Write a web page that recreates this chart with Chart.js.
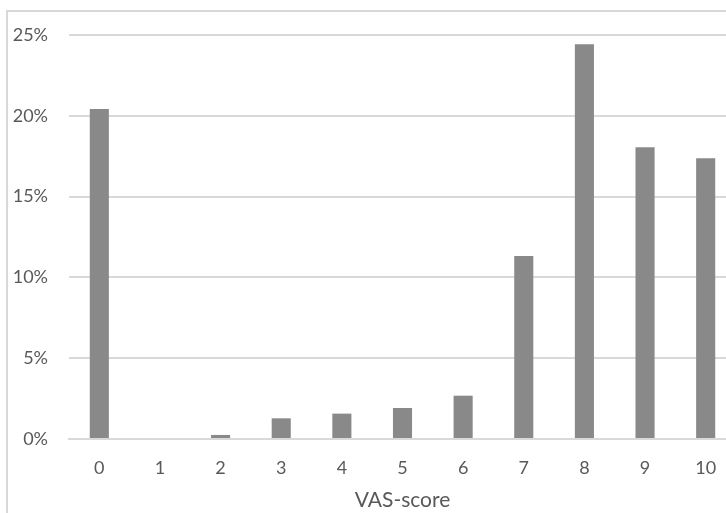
<!DOCTYPE html>
<html>
<head>
<meta charset="utf-8">
<script src="https://cdn.jsdelivr.net/npm/chart.js@4"></script>
<style>
  html, body { margin: 0; padding: 0; background: #fff; overflow: hidden; width: 726px; height: 513px; }
  #frame { position: absolute; left: 6px; top: 10px; width: 800px; height: 600px; border-left: 2px solid #d9d9d9; border-top: 2px solid #d9d9d9; box-sizing: border-box; }
  #wrap { position: absolute; left: 0; top: 0; width: 736px; height: 513px; }
</style>
</head>
<body>
<div id="frame"></div>
<div id="wrap"><canvas id="c"></canvas></div>
<script>
const categories = ["0", "1", "2", "3", "4", "5", "6", "7", "8", "9", "10"];
const percentValues = [20.42, 0, 0.25, 1.28, 1.57, 1.92, 2.68, 11.32, 24.42, 18.05, 17.37];
const yTickValues = [0, 5, 10, 15, 20, 25];
const xAxisTitle = "VAS-score";

const textColor = "#595959";
const gridColor = "#d9d9d9";

new Chart(document.getElementById("c"), {
  type: "bar",
  data: {
    labels: categories,
    datasets: [{
      data: percentValues,
      backgroundColor: "#898989",
      borderWidth: 0,
      barPercentage: 0.315,
      categoryPercentage: 1.0
    }]
  },
  options: {
    responsive: true,
    maintainAspectRatio: false,
    animation: false,
    layout: { padding: { left: 0, right: 0, top: 35, bottom: 0 } },
    plugins: { legend: { display: false }, tooltip: { enabled: false } },
    scales: {
      x: {
        grid: { display: false, drawTicks: false },
        border: { display: true, color: gridColor, width: 2 },
        ticks: { color: textColor, font: { family: "Lato", size: 18 }, padding: 18, maxRotation: 0 },
        title: { display: true, text: xAxisTitle, color: textColor, font: { family: "Lato", size: 21 }, padding: { top: 1, bottom: 0 } },
        afterFit: s => { s.height = 74; }
      },
      y: {
        min: 0,
        max: 25,
        afterBuildTicks: s => { s.ticks = yTickValues.map(v => ({ value: v })); },
        grid: { color: gridColor, lineWidth: 2, drawTicks: false },
        border: { display: false },
        ticks: { color: textColor, font: { family: "Lato", size: 18 }, padding: 21, callback: v => v + "%" },
        afterFit: s => { s.width = 69; }
      }
    }
  }
});
</script>
</body>
</html>
